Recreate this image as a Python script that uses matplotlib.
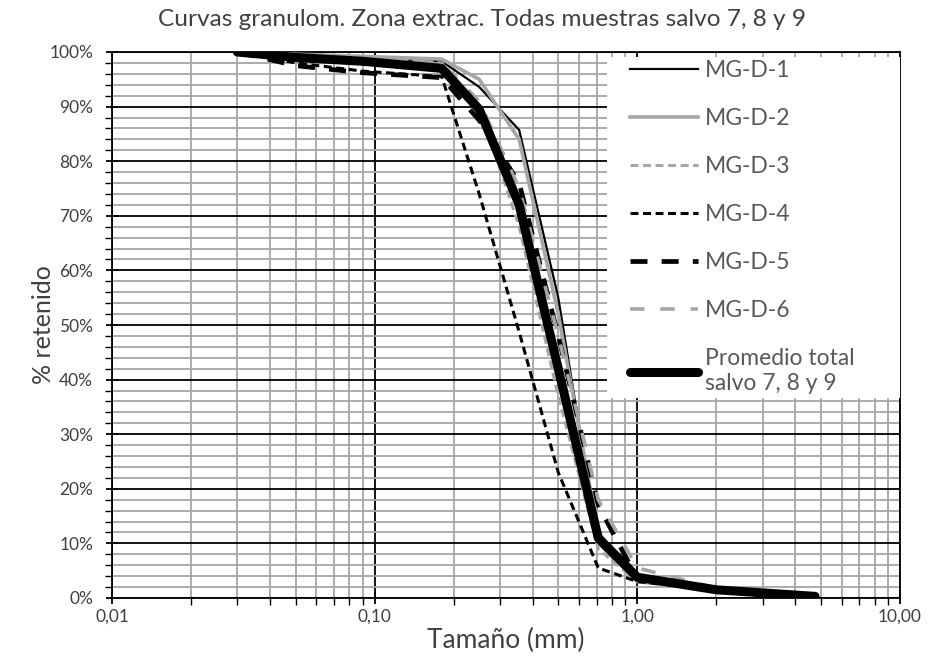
import matplotlib.pyplot as plt
import numpy as np
from matplotlib.patches import Rectangle
from matplotlib.ticker import FixedLocator, FuncFormatter, LogLocator, NullFormatter

# sieve sizes (mm) and % retained
tamanos = [0.03, 0.05, 0.09, 0.18, 0.25, 0.355, 0.5, 0.71, 1.0, 2.0, 4.75]

mg_d_1 = [100, 99.5, 99.0, 98.3, 93.6, 85.7, 55.0, 10.0, 3.0, 1.5, 0.2]
mg_d_2 = [100, 99.6, 99.2, 98.7, 95.0, 84.0, 52.0, 12.0, 3.0, 1.5, 0.2]
mg_d_3 = [100, 99.5, 99.0, 98.0, 90.0, 68.0, 37.0, 9.0, 3.0, 1.5, 0.2]
mg_d_4 = [100, 98.0, 96.5, 95.5, 74.0, 48.7, 23.0, 5.5, 3.0, 1.5, 0.2]
mg_d_5 = [100, 97.5, 96.2, 95.3, 87.5, 76.0, 48.0, 17.0, 3.5, 1.5, 0.2]
mg_d_6 = [100, 99.4, 98.8, 98.0, 91.0, 75.0, 48.0, 18.0, 5.5, 1.8, 0.3]
promedio = [100, 99.0, 98.3, 97.0, 89.5, 72.0, 42.0, 11.0, 3.8, 1.5, 0.3]

GRIS = '#a6a6a6'
TEXTO = '#404040'


def main():
    plt.rcParams['font.family'] = ['Lato', 'DejaVu Sans']

    fig = plt.figure(figsize=(9.35, 6.66), dpi=100)
    ax = fig.add_axes([112 / 935, 1 - 598 / 666, 788 / 935, 546 / 666])

    series = [
        ('MG-D-1', mg_d_1, dict(color='black', lw=1.6)),
        ('MG-D-2', mg_d_2, dict(color=GRIS, lw=2.6)),
        ('MG-D-3', mg_d_3, dict(color=GRIS, lw=2.2, dashes=(2.6, 1.5))),
        ('MG-D-4', mg_d_4, dict(color='black', lw=2.2, dashes=(2.6, 1.5))),
        ('MG-D-5', mg_d_5, dict(color='black', lw=3.4, dashes=(3.6, 3.0))),
        ('MG-D-6', mg_d_6, dict(color=GRIS, lw=2.6, dashes=(4.0, 4.4))),
        ('Promedio total\nsalvo 7, 8 y 9', promedio,
         dict(color='black', lw=6.5, solid_capstyle='round')),
    ]
    for label, vals, style in series:
        ax.plot(tamanos, vals, label=label, zorder=3, **style)

    ax.set_xscale('log')
    ax.set_xlim(0.01, 10)
    ax.set_ylim(0, 100)

    ax.xaxis.set_major_locator(FixedLocator([0.01, 0.1, 1, 10]))
    ax.xaxis.set_minor_locator(LogLocator(base=10, subs=np.arange(2, 10)))
    ax.xaxis.set_major_formatter(FuncFormatter(lambda v, p: f'{v:.2f}'.replace('.', ',')))
    ax.xaxis.set_minor_formatter(NullFormatter())

    ax.yaxis.set_major_locator(FixedLocator(np.arange(0, 101, 10)))
    ax.yaxis.set_minor_locator(FixedLocator(np.arange(0, 101, 2)))
    ax.yaxis.set_major_formatter(FuncFormatter(lambda v, p: f'{v:.0f}%'))

    ax.grid(which='minor', color=GRIS, lw=1.3, zorder=1)
    ax.grid(which='major', color='black', lw=1.3, zorder=2)
    ax.set_axisbelow(True)

    ax.tick_params(which='major', direction='inout', length=9, width=1.3,
                   labelsize=12.5, colors='black', labelcolor=TEXTO)
    ax.tick_params(axis='y', which='major', pad=9)
    ax.tick_params(which='minor', direction='out', length=5, width=1.0)
    for s in ax.spines.values():
        s.set_color('black')
        s.set_linewidth(1.3)

    fig.text(482 / 935, 1 - 20 / 666,
             'Curvas granulom. Zona extrac. Todas muestras salvo 7, 8 y 9',
             fontsize=17.6, color=TEXTO, ha='center', va='center')
    ax.set_xlabel('Tamaño (mm)', fontsize=19, color=TEXTO, labelpad=2)
    ax.set_ylabel('% retenido', fontsize=18, color=TEXTO, labelpad=-4)

    # white area behind the legend, as in the original
    ax.add_patch(Rectangle((0.628, 0.366), 0.372, 0.625, transform=ax.transAxes,
                           facecolor='white', edgecolor='none', zorder=3.5))

    leg = ax.legend(loc='upper left', bbox_to_anchor=(0.657, 0.985),
                    borderaxespad=0, frameon=False, borderpad=0,
                    fontsize=16.5, labelcolor='#595959', handlelength=3.0,
                    handletextpad=0.3, labelspacing=1.18)
    leg.set_zorder(4)

    fig.savefig('out.png', dpi=100)


if __name__ == '__main__':
    main()
